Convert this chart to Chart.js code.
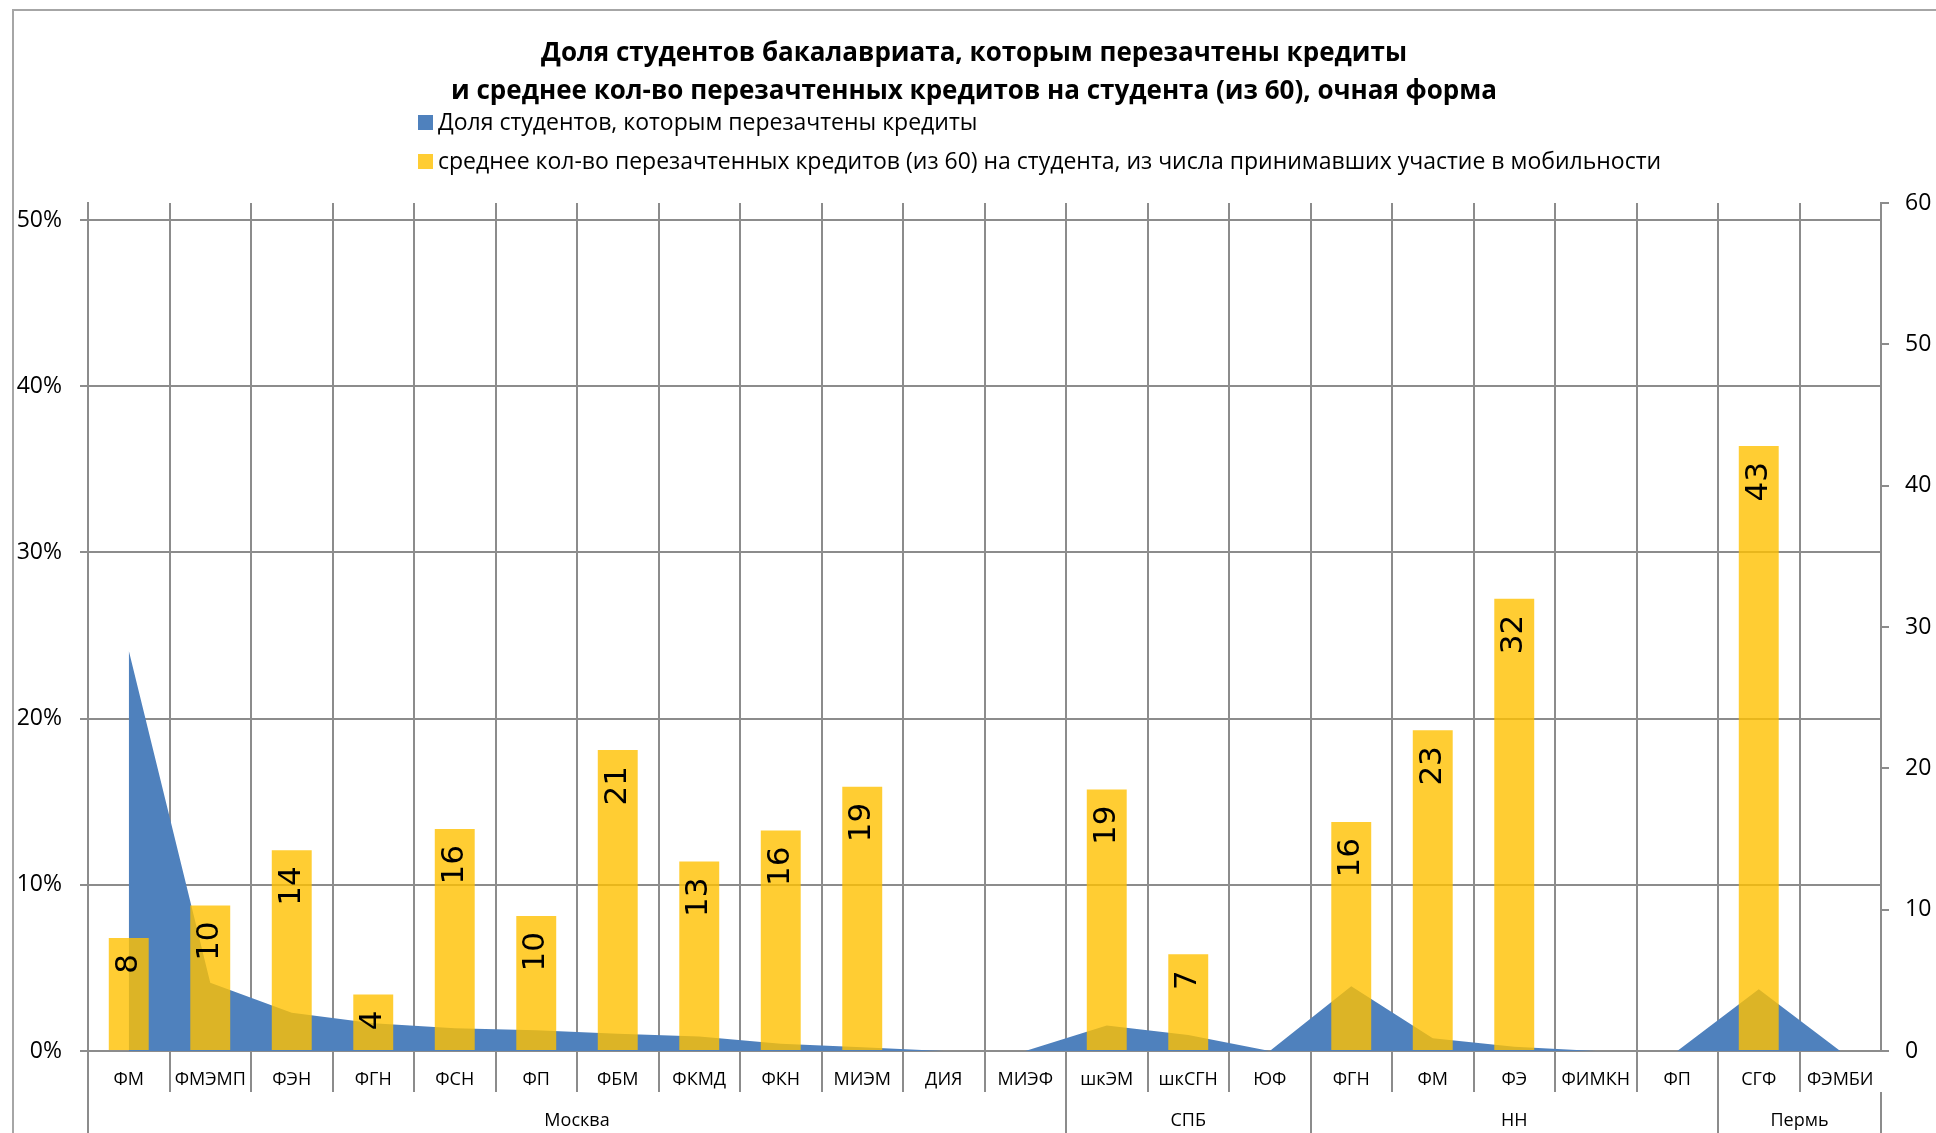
<!DOCTYPE html>
<html>
<head>
<meta charset="utf-8">
<script src="https://cdn.jsdelivr.net/npm/chart.js@4.4.0/dist/chart.umd.min.js"></script>
<style>
  html, body { margin: 0; padding: 0; background: #fff; overflow: hidden; }
  #wrap { position: relative; width: 1936px; height: 1133px; }
</style>
</head>
<body>
<div id="wrap"><canvas id="chart"></canvas></div>
<script>
// --- data ---
const categories = ['ФМ', 'ФМЭМП', 'ФЭН', 'ФГН', 'ФСН', 'ФП', 'ФБМ', 'ФКМД', 'ФКН', 'МИЭМ', 'ДИЯ', 'МИЭФ',
                    'шкЭМ', 'шкСГН', 'ЮФ',
                    'ФГН', 'ФМ', 'ФЭ', 'ФИМКН', 'ФП',
                    'СГФ', 'ФЭМБИ'];
const groupNames = ['Москва', 'СПБ', 'НН', 'Пермь'];
const groupSizes = [12, 3, 5, 2];

// share of students with transferred credits (left axis, fraction)
const shareStudents = [0.241, 0.041, 0.023, 0.0167, 0.0137, 0.0125, 0.0104, 0.0087, 0.0043, 0.0022, 0, 0,
                       0.0153, 0.0096, 0,
                       0.0389, 0.0076, 0.0025, 0, 0,
                       0.0372, 0];
// average transferred credits out of 60 (right axis)
const avgCredits = [8.0, 10.3, 14.2, 4.0, 15.7, 9.55, 21.3, 13.4, 15.6, 18.7, null, null,
                    18.5, 6.85, null,
                    16.2, 22.7, 32.0, null, null,
                    42.8, null];

const leftTicks = [0, 0.1, 0.2, 0.3, 0.4, 0.5];
const rightTicks = [0, 10, 20, 30, 40, 50, 60];

const titleLines = ['Доля студентов бакалавриата, которым перезачтены кредиты',
                    'и среднее кол-во перезачтенных кредитов на студента (из 60), очная форма'];
const seriesNames = ['Доля студентов, которым перезачтены кредиты',
                     'среднее кол-во перезачтенных кредитов (из 60) на студента, из числа принимавших участие в мобильности'];

const BLUE = '#4F81BD';
const GOLD = 'rgba(255, 192, 0, 0.8)';
const GRID = '#8c8c8c';
const FONT = '"Open Sans", "Noto Sans", sans-serif';

// --- title, legend, group axis, data labels ---
const decorPlugin = {
    id: 'decor',
    beforeDraw(chart) {
        const ctx = chart.ctx;
        ctx.save();
        ctx.fillStyle = '#fff';
        ctx.fillRect(0, 0, chart.width, chart.height);
        ctx.strokeStyle = '#a6a6a6';
        ctx.lineWidth = 2;
        ctx.strokeRect(13, 10, chart.width, chart.height);
        ctx.restore();
    },
    afterDatasetsDraw(chart) {
        const ctx = chart.ctx;
        const meta = chart.getDatasetMeta(1);
        ctx.save();
        ctx.fillStyle = '#000';
        ctx.font = '31px "DejaVu Sans", sans-serif';
        ctx.textAlign = 'right';
        ctx.textBaseline = 'middle';
        meta.data.forEach((bar, i) => {
            const v = avgCredits[i];
            if (v == null) return;
            ctx.save();
            ctx.translate(bar.x, bar.y + 16);
            ctx.rotate(-Math.PI / 2);
            ctx.fillText(String(Math.round(v)), 0, 0);
            ctx.restore();
        });
        ctx.restore();
    },
    afterDraw(chart) {
        const ctx = chart.ctx;
        const area = chart.chartArea;
        const step = (area.right - area.left) / categories.length;
        ctx.save();

        // title
        ctx.fillStyle = '#000';
        ctx.textAlign = 'center';
        ctx.textBaseline = 'middle';
        ctx.font = 'bold 26px ' + FONT;
        ctx.fillText(titleLines[0], 974, 54);
        ctx.fillText(titleLines[1], 974, 92);

        // legend
        ctx.textAlign = 'left';
        ctx.font = '23px ' + FONT;
        const legendColors = [BLUE, GOLD];
        [123, 162].forEach((y, i) => {
            ctx.fillStyle = legendColors[i];
            ctx.fillRect(418, y - 8, 15, 15);
            ctx.fillStyle = '#000';
            ctx.fillText(seriesNames[i], 438, y);
        });

        // category separators below the axis
        ctx.strokeStyle = GRID;
        ctx.lineWidth = 2;
        for (let i = 1; i < categories.length; i++) {
            const x = Math.round(area.left + i * step);
            ctx.beginPath();
            ctx.moveTo(x, area.bottom);
            ctx.lineTo(x, area.bottom + 41);
            ctx.stroke();
        }

        // group separators and labels
        let start = 0;
        const edges = [0];
        groupSizes.forEach(n => { start += n; edges.push(start); });
        edges.forEach(idx => {
            const x = Math.round(area.left + idx * step);
            ctx.beginPath();
            ctx.moveTo(x, area.bottom + (idx === categories.length ? 41 : 0));
            ctx.lineTo(x, chart.height);
            ctx.stroke();
        });
        ctx.fillStyle = '#000';
        ctx.textAlign = 'center';
        ctx.font = '18px ' + FONT;
        groupNames.forEach((name, g) => {
            const x = area.left + (edges[g] + edges[g + 1]) / 2 * step;
            ctx.fillText(name, x, 1121);
        });
        ctx.restore();
    }
};

document.addEventListener('DOMContentLoaded', () => {
    const ctx = document.getElementById('chart').getContext('2d');
    new Chart(ctx, {
        data: {
            labels: categories,
            datasets: [
                {
                    type: 'line',
                    label: seriesNames[0],
                    data: shareStudents,
                    yAxisID: 'y',
                    backgroundColor: BLUE,
                    borderWidth: 0,
                    pointRadius: 0,
                    tension: 0,
                    fill: 'origin',
                    order: 2
                },
                {
                    type: 'bar',
                    label: seriesNames[1],
                    data: avgCredits,
                    yAxisID: 'y1',
                    backgroundColor: GOLD,
                    barPercentage: 0.49,
                    categoryPercentage: 1,
                    order: 1
                }
            ]
        },
        options: {
            responsive: true,
            maintainAspectRatio: false,
            animation: false,
            devicePixelRatio: 1,
            layout: { padding: { top: 203, left: 0, right: 0, bottom: 0 } },
            plugins: {
                legend: { display: false },
                title: { display: false },
                tooltip: { enabled: false }
            },
            scales: {
                x: {
                    offset: true,
                    grid: { display: true, offset: true, color: GRID, lineWidth: 2, drawTicks: false },
                    border: { display: true, color: GRID, width: 2 },
                    ticks: {
                        autoSkip: false, maxRotation: 0, color: '#000',
                        font: { family: FONT, size: 18 }, padding: 18
                    },
                    afterFit: s => { s.height = 82; }
                },
                y: {
                    position: 'left',
                    min: 0,
                    max: 0.5102,
                    afterBuildTicks: s => { s.ticks = leftTicks.map(v => ({ value: v })); },
                    grid: { color: GRID, lineWidth: 2, tickLength: 8 },
                    border: { display: true, color: GRID, width: 2 },
                    ticks: {
                        color: '#000', padding: 18,
                        font: { family: FONT, size: 23 },
                        callback: v => Math.round(v * 100) + '%'
                    },
                    afterFit: s => { s.width = 88; }
                },
                y1: {
                    position: 'right',
                    min: 0,
                    max: 60,
                    afterBuildTicks: s => { s.ticks = rightTicks.map(v => ({ value: v })); },
                    grid: { drawOnChartArea: false, color: GRID, lineWidth: 2, tickLength: 8 },
                    border: { display: true, color: GRID, width: 2 },
                    ticks: {
                        color: '#000', padding: 16,
                        font: { family: FONT, size: 23 }
                    },
                    afterFit: s => { s.width = 55; }
                }
            }
        },
        plugins: [decorPlugin]
    });
});
</script>
</body>
</html>
